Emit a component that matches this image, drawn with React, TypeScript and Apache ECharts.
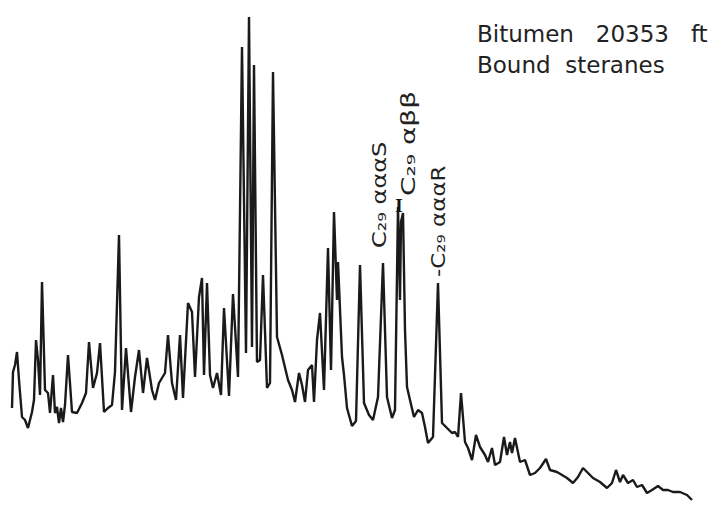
import React, { useEffect, useRef } from "react";
import * as echarts from "echarts";

// Retention position (arbitrary units along the run) and detector response
const retentionTime = [
  12, 13, 15, 17, 19, 22, 25, 28, 32, 34, 36, 38, 40, 42, 45, 48, 50, 53, 55, 57,
  59, 61, 63, 65, 68, 72, 77, 82, 86, 89, 93, 97, 100, 104, 108, 112, 115, 119, 122, 126,
  131, 135, 139, 143, 147, 152, 155, 159, 165, 168, 172, 176, 180, 183, 188, 192, 195, 199, 202, 204,
  207, 210, 213, 217, 221, 224, 229, 233, 238, 242, 246, 249, 252, 254, 257, 260, 263, 267, 270, 273,
  277, 282, 288, 292, 295, 299, 302, 305, 308, 312, 314, 317, 320, 324, 328, 331, 334, 337, 338, 342,
  344, 347, 352, 356, 360, 364, 369, 373, 378, 383, 387, 392, 395, 398, 400, 401, 403, 405, 407, 410,
  414, 418, 422, 425, 428, 433, 438, 442, 447, 452, 455, 458, 461, 465, 468, 472, 476, 480, 485, 488,
  492, 495, 500, 504, 507, 510, 512, 515, 520, 525, 530, 535, 540, 546, 550, 557, 562, 567, 573, 578,
  583, 588, 593, 600, 607, 612, 616, 620, 623, 628, 633, 637, 642, 647, 652, 658, 663, 668, 673, 680,
  687, 692,
];
const intensity = [
  97, 133, 140, 153, 125, 88, 85, 77, 93, 105, 165, 145, 110, 223, 115, 112, 92, 130, 92, 98,
  82, 97, 83, 100, 150, 93, 92, 102, 112, 163, 117, 132, 162, 93, 97, 100, 133, 270, 95, 157,
  93, 128, 155, 112, 147, 115, 105, 122, 132, 170, 122, 105, 170, 107, 202, 193, 128, 208, 227, 130,
  222, 130, 117, 132, 110, 197, 109, 211, 128, 458, 152, 488, 158, 440, 143, 145, 230, 117, 122, 433,
  168, 150, 125, 115, 103, 132, 120, 103, 135, 140, 103, 165, 192, 115, 257, 135, 293, 205, 243, 148,
  130, 97, 79, 84, 240, 102, 90, 85, 108, 242, 108, 87, 95, 298, 205, 283, 292, 175, 118, 105,
  88, 95, 92, 78, 62, 68, 222, 82, 77, 72, 73, 68, 112, 63, 57, 45, 70, 58, 50, 43,
  57, 40, 43, 68, 50, 63, 52, 67, 43, 45, 30, 32, 37, 46, 35, 33, 30, 27, 22, 28,
  37, 32, 27, 23, 17, 22, 35, 23, 30, 22, 25, 18, 20, 12, 15, 19, 15, 15, 13, 13,
  10, 5,
];

const titleLines = ["Bitumen   20353   ft", "Bound  steranes"];
const peakLabels = ["C₂₉ αααS", "C₂₉ αββ", "-C₂₉ αααR"];

export default function App() {
  const ref = useRef<HTMLDivElement>(null);
  useEffect(() => {
    if (!ref.current) return;
    const chart = echarts.init(ref.current, null, { renderer: "svg" });
    const data = retentionTime.map((t, i) => [t, intensity[i]]);
    const labelFont = '20px "DejaVu Sans"';
    const titleFont = '23px "DejaVu Sans"';
    chart.setOption({
      animation: false,
      backgroundColor: "#ffffff",
      grid: { left: 0, right: 0, top: 0, bottom: 0 },
      xAxis: { type: "value", min: 0, max: 724, show: false },
      yAxis: { type: "value", min: 0, max: 505, show: false },
      series: [
        {
          type: "line",
          data,
          showSymbol: false,
          lineStyle: { color: "#1a1a1a", width: 2.4 },
          silent: true,
        },
      ],
      graphic: [
        {
          type: "text",
          x: 477,
          y: 34,
          style: { text: titleLines[0], font: titleFont, fill: "#222", verticalAlign: "middle" },
        },
        {
          type: "text",
          x: 477,
          y: 65,
          style: { text: titleLines[1], font: titleFont, fill: "#222", verticalAlign: "middle" },
        },
        {
          type: "text",
          x: 379,
          y: 248,
          rotation: Math.PI / 2,
          scaleX: 1.2,
          style: { text: peakLabels[0], font: labelFont, fill: "#222", verticalAlign: "middle", align: "left" },
        },
        {
          type: "text",
          x: 408,
          y: 196,
          rotation: Math.PI / 2,
          scaleX: 1.4,
          style: { text: peakLabels[1], font: labelFont, fill: "#222", verticalAlign: "middle", align: "left" },
        },
        {
          type: "text",
          x: 399,
          y: 205,
          z: 50,
          style: { text: "I", font: 'bold 19px "Liberation Serif"', fill: "#111", verticalAlign: "middle", align: "center" },
        },
        {
          type: "text",
          x: 438,
          y: 277,
          rotation: Math.PI / 2,
          scaleX: 1.15,
          style: { text: peakLabels[2], font: labelFont, fill: "#222", verticalAlign: "middle", align: "left" },
        },
      ],
    });
    return () => chart.dispose();
  }, []);
  return (
    <div
      ref={ref}
      style={{ position: "fixed", left: 0, top: 0, width: 724, height: 505, background: "#fff" }}
    />
  );
}
